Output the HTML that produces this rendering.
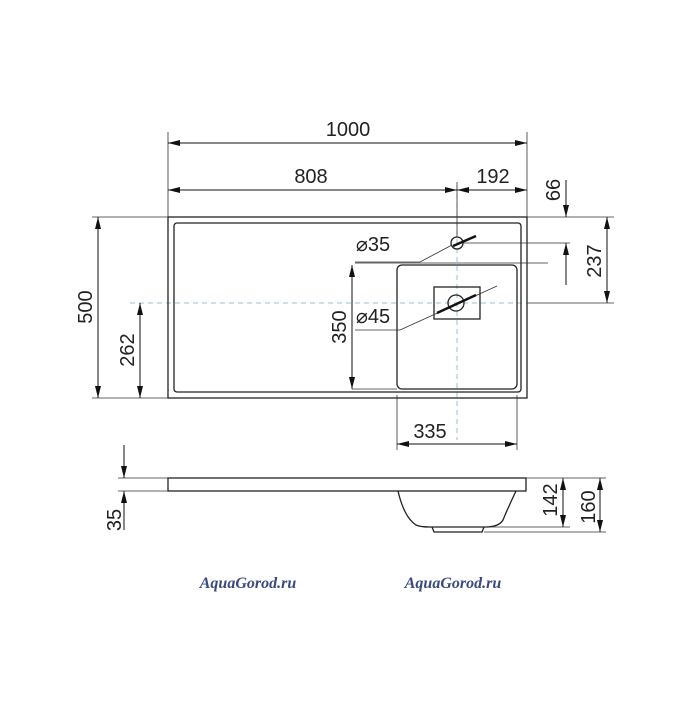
<!DOCTYPE html>
<html><head><style>body{margin:0;background:#fff}</style></head><body>
<svg width="700" height="700" viewBox="0 0 700 700" xmlns="http://www.w3.org/2000/svg" font-family="Liberation Sans, sans-serif">
<defs>
<marker id="a" viewBox="0 0 12 6" refX="12" refY="3" markerWidth="12" markerHeight="6" orient="auto-start-reverse" markerUnits="userSpaceOnUse"><path d="M0,0L12,3L0,6z" fill="#111"/></marker>
</defs>
<g stroke="#8fc7d2" stroke-width="1" stroke-dasharray="5,4">
<line x1="457" y1="185" x2="457" y2="440"/>
<line x1="130" y1="303" x2="527" y2="303"/>
</g>
<g fill="none" stroke="#222" stroke-width="1.3">
<rect x="168" y="217" width="359" height="181"/>
<rect x="174" y="223" width="347" height="169" rx="3"/>
<rect x="397" y="265" width="120" height="124" rx="5"/>
<rect x="434" y="287" width="46" height="32"/>
<circle cx="456" cy="303" r="8"/>
<circle cx="457" cy="243" r="6"/>
<rect x="168" y="478" width="358" height="13"/>
<path d="M398,491 Q404,517 416,525 Q420,527 430,527 L485,527 Q499,527 503,520 Q507,510 516,491"/>
<path d="M432,527 L434,532 L482,532 L484,527"/>
</g>
<g stroke="#333" stroke-width="0.8" fill="none">
<line x1="168" y1="132" x2="168" y2="217"/><line x1="527" y1="132" x2="527" y2="217"/>
<line x1="457" y1="182" x2="457" y2="237"/>
<line x1="92" y1="217" x2="168" y2="217"/><line x1="92" y1="398" x2="168" y2="398"/>
<line x1="527" y1="217" x2="614" y2="217"/><line x1="463" y1="243" x2="570" y2="243"/><line x1="527" y1="303" x2="614" y2="303"/>
<line x1="355" y1="263" x2="548" y2="263"/>
<line x1="352" y1="389" x2="397" y2="389"/>
<line x1="397" y1="395" x2="397" y2="450"/><line x1="517" y1="395" x2="517" y2="450"/>
<line x1="355" y1="262" x2="420" y2="262"/><line x1="420" y1="262" x2="452" y2="245"/>
<line x1="355" y1="330" x2="400" y2="330"/><line x1="400" y1="330" x2="497" y2="286"/>
<line x1="118" y1="478" x2="168" y2="478"/><line x1="118" y1="491" x2="168" y2="491"/>
<line x1="526" y1="478" x2="606" y2="478"/><line x1="485" y1="527" x2="570" y2="527"/><line x1="484" y1="532" x2="606" y2="532"/>
</g>
<g stroke="#111" stroke-width="1">
<line x1="168" y1="143" x2="527" y2="143" marker-start="url(#a)" marker-end="url(#a)"/>
<line x1="168" y1="190" x2="457" y2="190" marker-start="url(#a)" marker-end="url(#a)"/>
<line x1="457" y1="190" x2="527" y2="190" marker-start="url(#a)" marker-end="url(#a)"/>
<line x1="98" y1="217" x2="98" y2="398" marker-start="url(#a)" marker-end="url(#a)"/>
<line x1="140" y1="303" x2="140" y2="398" marker-start="url(#a)" marker-end="url(#a)"/>
<line x1="352" y1="265" x2="352" y2="389" marker-start="url(#a)" marker-end="url(#a)"/>
<line x1="607" y1="217" x2="607" y2="303" marker-start="url(#a)" marker-end="url(#a)"/>
<line x1="566" y1="180" x2="566" y2="217" marker-end="url(#a)"/>
<line x1="566" y1="285" x2="566" y2="243" marker-end="url(#a)"/>
<line x1="397" y1="444" x2="517" y2="444" marker-start="url(#a)" marker-end="url(#a)"/>
<line x1="124" y1="445" x2="124" y2="478" marker-end="url(#a)"/>
<line x1="124" y1="530" x2="124" y2="491" marker-end="url(#a)"/>
<line x1="563" y1="478" x2="563" y2="527" marker-start="url(#a)" marker-end="url(#a)"/>
<line x1="600" y1="478" x2="600" y2="532" marker-start="url(#a)" marker-end="url(#a)"/>
</g>
<line x1="453" y1="246" x2="476" y2="236" stroke="#111" stroke-width="2.5"/>
<line x1="437" y1="313" x2="476" y2="295" stroke="#111" stroke-width="2.5"/>
<g fill="#222" font-size="20" text-anchor="middle">
<text x="348" y="136">1000</text>
<text x="311" y="183">808</text>
<text x="493" y="183">192</text>
<text x="430" y="438">335</text>
<text x="373" y="251">⌀35</text>
<text x="373" y="323">⌀45</text>
<text transform="translate(92,307) rotate(-90)">500</text>
<text transform="translate(134,350) rotate(-90)">262</text>
<text transform="translate(346,327) rotate(-90)">350</text>
<text transform="translate(560,190) rotate(-90)">66</text>
<text transform="translate(601,261) rotate(-90)">237</text>
<text transform="translate(121,520) rotate(-90)">35</text>
<text transform="translate(557,500) rotate(-90)">142</text>
<text transform="translate(595,507) rotate(-90)">160</text>
</g>
<g fill="#3a4a80" font-family="Liberation Serif, serif" font-weight="bold" font-style="italic" font-size="16" text-anchor="middle">
<text x="248" y="588">AquaGorod.ru</text>
<text x="453" y="588">AquaGorod.ru</text>
</g>
</svg>
</body></html>
